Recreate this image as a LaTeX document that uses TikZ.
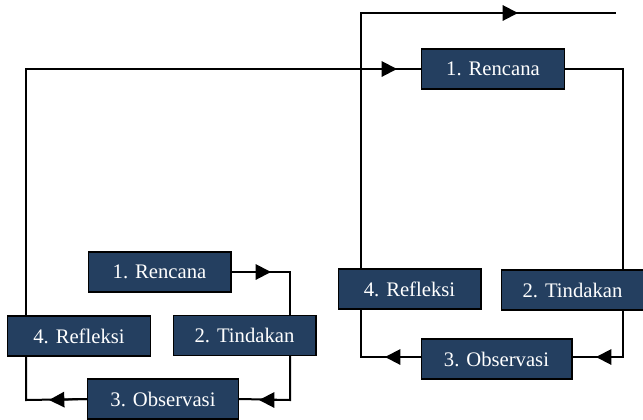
\documentclass[tikz,border=0pt]{standalone}
\usepackage{fontspec}
\setmainfont{Liberation Serif}
\usetikzlibrary{arrows.meta}
\definecolor{stagefill}{RGB}{36,63,96}
\begin{document}
\begin{tikzpicture}[x=0.75pt,y=-0.75pt,
  stage/.style={draw=black, line width=1pt, fill=stagefill, text=white,
    font=\fontsize{15.5}{18}\selectfont, minimum width=107pt, minimum height=30pt, inner sep=2pt},
  link/.style={line width=1.5pt},
  tip/.style={line width=1.5pt, -{Triangle[length=11.5pt,width=11.5pt]}}]
\useasboundingbox (0,0) rectangle (643,419);
\clip (0,0) rectangle (643,419);
\begin{scope}
\node[stage] (r1) at (159.5,272) {1. Rencana};
\node[stage] (t1) at (244.5,335.5) {2. Tindakan};
\node[stage, minimum width=113pt] (o1) at (163,399) {3. Observasi};
\node[stage] (f1) at (79,336) {4. Refleksi};
\coordinate (a1) at (290,272);
\coordinate (a2) at (290,400);
\coordinate (a3) at (26,400);
\coordinate (a4) at (26,69);
\path[draw,link] (r1.east) -- (a1) -- (t1.north -| a1);
\path[draw,tip] (r1.east) -- (271,272);
\path[draw,link] (t1.south -| a2) -- (a2) -- (o1.east);
\path[draw,tip] (a2) -- (259,400);
\path[draw,link] (o1.west) -- (a3) -- (f1.south -| a3);
\path[draw,tip] (o1.west) -- (49,400);
\end{scope}
\begin{scope}
\node[stage] (r2) at (493,69) {1. Rencana};
\node[stage] (t2) at (572.5,290) {2. Tindakan};
\node[stage, minimum width=113pt] (o2) at (496.5,359) {3. Observasi};
\node[stage] (f2) at (409.5,289) {4. Refleksi};
\coordinate (b1) at (623,69);
\coordinate (b2) at (623,357);
\coordinate (b3) at (361,357);
\coordinate (b4) at (361,13);
\coordinate (b5) at (616,13);
\path[draw,link] (f1.north -| a4) -- (a4) -- (r2.west);
\path[draw,tip] (a4) -- (397,69);
\path[draw,link] (r2.east) -- (b1) -- (t2.north -| b1);
\path[draw,link] (t2.south -| b2) -- (b2) -- (o2.east |- b2);
\path[draw,tip] (b2) -- (596,357);
\path[draw,link] (o2.west |- b3) -- (b3) -- (f2.south -| b3);
\path[draw,tip] (o2.west |- b3) -- (385,357);
\path[draw,link] (f2.north -| b4) -- (b4) -- (b5);
\path[draw,tip] (b4) -- (518,13);
\end{scope}
\end{tikzpicture}
\end{document}
